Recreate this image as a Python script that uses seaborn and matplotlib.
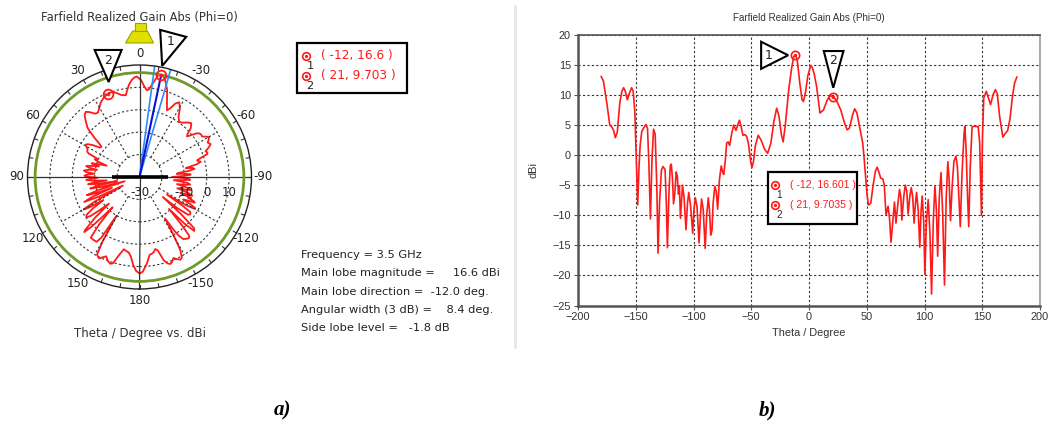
import numpy as np
import matplotlib
matplotlib.use("Agg")
import matplotlib.pyplot as plt
import seaborn as sns
from matplotlib.patches import Polygon, Rectangle
from matplotlib.lines import Line2D
from matplotlib import font_manager

# ---------------- data ----------------
theta_deg = [-180, -178, -175, -172.5, -170.5, -169, -167.7, -166, -163.8, -162, -160.5, -159,
             -157.3, -155.5, -153.6, -152.2, -150.8, -149.6, -148.3, -147.2, -146.2, -144.8,
             -143.2, -141.2, -139.8, -138.7, -137.3, -136, -134.6, -133.2, -131.8, -130.7,
             -129.4, -127.8, -126.4, -124.6, -123.6, -122.6, -121.2, -120.1, -119.2, -118.2,
             -117.3, -116.2, -115.0, -114.0, -113.0, -112.2, -111.3, -109.5, -108.2, -106.5,
             -105.2, -104.1, -102.5, -100.7, -99.6, -98.4, -97, -95.2, -94, -93, -91.6, -89.9,
             -88.6, -87.2, -86.2, -85.1, -84, -83, -81.6, -80.3, -79.1, -77.5, -76, -74.5,
             -73.8, -72.5, -71.3, -70, -68.7, -67, -65.2, -63.2, -61.8, -60.2, -58.8, -57.2,
             -55.5, -54, -52.5, -50.5, -49.4, -48, -46.5, -44, -41.5, -38.5, -35.8, -33,
             -30.5, -28, -26, -24, -22.4, -20.5, -17.5, -15, -13.2, -12, -10.3, -8, -6, -4.8,
             -3, -1, 1.5, 3, 4.5, 6.5, 8.5, 9.5, 12.5, 15.5, 18, 21, 24, 27.5, 30.5, 33, 35,
             37.5, 39.5, 41.5, 44, 46.5, 47.5, 49, 50.2, 51.5, 53.5, 55.5, 57.5, 59, 60.5, 62,
             64, 65.2, 66.7, 68.5, 69.7, 71, 72.8, 74, 75.3, 77, 78.4, 79.5, 80.4, 82, 83.3,
             84.7, 85.8, 87.5, 88.6, 89.8, 91, 92.2, 93.1, 94.5, 95.9, 97, 98, 99.3, 100.3,
             101.7, 103.2, 104.7, 106.1, 107.6, 109, 110.3, 111.4, 112.8, 114.3, 115.8, 117.3,
             118.8, 120.2, 121.3, 122.5, 124, 125.5, 127.2, 128.5, 129.8, 131, 132.5, 134.2,
             134.9, 136, 137.3, 138.3, 139.6, 141.2, 143.5, 146.5, 147.8, 149.3, 150.2, 151.3,
             153.5, 155.3, 157.2, 159.3, 161.4, 163, 165, 167.8, 170, 172, 174, 176, 178, 180]
gain_dbi = [13.1, 12.3, 8.6, 5.0, 4.6, 4.0, 2.9, 3.8, 8.7, 10.6, 11.2, 10.6,
            9.2, 10.3, 11.2, 10.6, 7.2, 0.0, -8.3, -2.0, 1.6, 3.9,
            4.5, 5.1, 4.4, -1.0, -10.6, -1.0, 4.3, 3.5, -5.0, -16.3,
            -8.0, -2.5, -1.9, -2.4, -7.5, -15.4, -6.0, -1.8, -1.5, -4.0,
            -8.1, -6.5, -2.8, -3.5, -6.5, -5.1, -10.5, -5.0, -7.0, -12.4,
            -8.0, -6.2, -8.5, -13.0, -9.0, -7.1, -8.5, -14.6, -10.0, -7.3, -9.0, -15.5,
            -10.0, -7.1, -9.0, -13.3, -12.5, -8.0, -5.2, -6.0, -9.0, -4.0, -1.8, -3.0,
            -3.2, -1.0, 2.0, 2.2, 1.6, 3.5, 5.0, 4.1, 5.0, 5.8, 4.8, 3.3,
            3.4, 3.1, 2.0, -1.0, -2.1, -1.0, 1.5, 3.3, 2.5, 1.0, 0.3, 2.0,
            5.5, 7.8, 6.5, 3.5, 2.2, 5.0, 11.0, 14.5, 16.4, 16.6, 16.0, 12.0, 9.2, 8.9,
            10.5, 13.2, 14.9, 14.5, 13.5, 11.5, 8.5, 7.0, 7.5, 9.0, 9.9, 9.7, 9.0, 7.5, 5.5, 4.2, 4.5,
            6.5, 7.7, 7.0, 4.5, 2.0, 0.0, -3.5, -6.5, -8.3, -8.0, -5.0, -2.7, -2.0, -2.8, -3.8,
            -4.0, -5.0, -10.0, -8.5, -10.5, -14.5, -10.5, -7.8, -11.3, -8.0, -5.7, -7.0, -10.8, -7.0, -5.0,
            -6.0, -9.8, -6.5, -5.4, -7.0, -11.3, -8.0, -6.2, -9.0, -15.3, -9.5, -6.8, -11.0, -19.8,
            -11.0, -7.4, -13.0, -23.1, -11.0, -5.1, -9.0, -16.8, -7.0, -2.9, -10.0, -21.6,
            -7.0, -1.1, -4.0, -10.9, -5.0, -1.0, -0.2, -2.0, -7.0, -11.9, -3.0, 3.5,
            4.8, 1.0, -7.0, -11.9, -2.0, 4.7, 4.8, 4.7, 2.0, -10.0, 3.0, 9.5,
            10.6, 9.5, 8.4, 10.0, 10.9, 10.2, 6.5, 3.0, 3.6, 4.1, 6.0, 9.5, 12.0, 13.0]

marker_ids = ["1", "2"]
marker_theta = [-12, 21]
marker_gain = [16.601, 9.7035]
polar_marker_text = ["( -12, 16.6 )", "( 21, 9.703 )"]
cart_marker_text = ["( -12, 16.601 )", "( 21, 9.7035 )"]

theta_tick_vals = [0, 30, 60, 90, 120, 150, 180, -150, -120, -90, -60, -30]
polar_r_rings = [-20, -10, 0, 10]
polar_r_labels = [-30, -10, 0, 10]
x_ticks = [-200, -150, -100, -50, 0, 50, 100, 150, 200]
y_ticks = [-25, -20, -15, -10, -5, 0, 5, 10, 15, 20]

main_lobe_mag = 16.6
main_lobe_dir = -12.0
angular_width = 8.4
info_lines = ["Frequency = 3.5 GHz",
              "Main lobe magnitude =     16.6 dBi",
              "Main lobe direction =  -12.0 deg.",
              "Angular width (3 dB) =    8.4 deg.",
              "Side lobe level =   -1.8 dB"]

title_text = "Farfield Realized Gain Abs (Phi=0)"

# ---------------- style ----------------
sns.set_theme(style="white")
plt.rcParams["font.family"] = ["DejaVu Sans"]
names = {f.name for f in font_manager.fontManager.ttflist}
narrow = "Liberation Sans Narrow" if "Liberation Sans Narrow" in names else "Liberation Sans"
narrow_size = 9 if narrow == "Liberation Sans Narrow" else 7.9

W, H = 1048, 428
fig = plt.figure(figsize=(W / 100, H / 100), dpi=100)
fig.patch.set_facecolor("white")


def fx(px):
    return px / W


def fy(py):
    return 1 - py / H


RED = "#FF1A1A"

# ---------------- polar panel ----------------
cx, cy, R = 139.5, 177, 112
axp = fig.add_axes([fx(cx - R), fy(cy + R), 2 * R / W, 2 * R / H], projection="polar")
axp.set_theta_zero_location("N")
axp.set_theta_direction(1)
axp.set_facecolor("white")

th_rad = np.deg2rad(theta_deg)
sns.lineplot(x=th_rad, y=gain_dbi, ax=axp, color=RED, lw=1.3, sort=False, estimator=None)
axp.set_xlabel("")
axp.set_ylabel("")
axp.set_xlim(-np.pi, np.pi)
axp.set_ylim(-30, 20)

axp.set_yticks(polar_r_rings)
axp.set_yticklabels([])
axp.yaxis.grid(True, linestyle=(0, (2, 2)), color="#333333", lw=0.8)
axp.set_xticks(np.deg2rad(theta_tick_vals))
axp.set_xticklabels([str(v) for v in theta_tick_vals], fontsize=8.5, color="#222222")
axp.xaxis.grid(False)
axp.tick_params(axis="x", pad=-5)
axp.spines["polar"].set_color("#222222")
axp.spines["polar"].set_linewidth(1.0)

# spokes
for t in theta_tick_vals:
    if t % 90 == 0:
        axp.plot([np.deg2rad(t)] * 2, [-30, 20], color="#333333", lw=0.9)
    else:
        axp.plot([np.deg2rad(t)] * 2, [-20, 10], color="#333333", lw=0.8, linestyle=(0, (2, 2)))
for t in range(-180, 180, 10):
    axp.plot([np.deg2rad(t)] * 2, [18.3, 20], color="#333333", lw=0.8)

# main lobe circle
axp.axhline(main_lobe_mag, color="#6E9A2A", lw=2.0)

# beam lines
for d in (-angular_width / 2, angular_width / 2):
    axp.plot([np.deg2rad(main_lobe_dir + d)] * 2, [-30, 20], color="#2C8CFF", lw=1.2)
axp.plot([np.deg2rad(main_lobe_dir)] * 2, [-30, main_lobe_mag], color="#1010D0", lw=1.5)

# side marker line
for t in (90, -90):
    axp.plot([np.deg2rad(t)] * 2, [-30, -17.5], color="black", lw=2.6, solid_capstyle="butt")

# radial labels
for v in polar_r_labels:
    axp.annotate(str(v), xy=(np.deg2rad(-90), v), xytext=(0, -11.5), textcoords="offset points",
                 ha="center", va="center", fontsize=8.5, color="#222222")

# markers
axp.plot(np.deg2rad(marker_theta), marker_gain, "o", mfc="none", mec=RED, ms=7, mew=1.3)
axp.plot(np.deg2rad(marker_theta), marker_gain, "o", mfc=RED, mec=RED, ms=1.5)
axp.set_xlim(-np.pi, np.pi)

# ---------------- cartesian panel ----------------
axc = fig.add_axes([fx(578), fy(305.5), 462 / W, 270.7 / H])
sns.lineplot(x=theta_deg, y=gain_dbi, ax=axc, color=RED, lw=1.2, sort=False, estimator=None)
axc.plot(marker_theta, marker_gain, "o", mfc="none", mec=RED, ms=6, mew=1.2)
axc.plot(marker_theta, marker_gain, "o", mfc=RED, mec=RED, ms=1.4)
axc.set_xlim(-200, 200)
axc.set_ylim(-25, 20)
axc.set_xticks(x_ticks)
axc.set_yticks(y_ticks)
axc.grid(True, linestyle=(0, (2, 2)), color="#333333", lw=0.8)
for lab in axc.get_xticklabels() + axc.get_yticklabels():
    lab.set_family(narrow)
    lab.set_fontsize(narrow_size)
    lab.set_color("#333333")
axc.tick_params(direction="out", length=3, width=0.8, color="#555555", pad=2,
                bottom=True, left=True)
axc.set_xlabel("Theta / Degree", family=narrow, fontsize=narrow_size, color="#333333", labelpad=4)
axc.set_ylabel("dBi", family=narrow, fontsize=narrow_size, color="#333333", labelpad=10)
axc.set_title(title_text, family=narrow, fontsize=narrow_size - 0.8, color="#333333", pad=10)
axc.spines["left"].set_color("#555555")
axc.spines["bottom"].set_color("#555555")
axc.spines["left"].set_linewidth(1.8)
axc.spines["bottom"].set_linewidth(1.8)
axc.spines["top"].set_color("#555555")
axc.spines["right"].set_color("#999999")
axc.spines["top"].set_linewidth(1.2)
axc.spines["right"].set_linewidth(1.2)

# ---------------- annotations ----------------
inv = fig.transFigure.inverted()


def tri(ax, theta, r, rel, text_rel, label, polar):
    x = np.deg2rad(theta) if polar else theta
    px, py = ax.transData.transform((x, r))
    verts = [inv.transform((px + dx, py + dy)) for dx, dy in rel]
    fig.add_artist(Polygon(verts, closed=True, facecolor="white", edgecolor="black", lw=1.5,
                           transform=fig.transFigure, zorder=5))
    tx, ty = inv.transform((px + text_rel[0], py + text_rel[1]))
    fig.text(tx, ty, label, ha="center", va="center", fontsize=9, color="#222222", zorder=6)


tri(axp, marker_theta[0], marker_gain[0], [(-1, 45), (25, 38), (1, 9)], (9, 33), marker_ids[0], True)
tri(axp, marker_theta[1], marker_gain[1], [(-13, 44), (14, 44), (1, 12)], (0, 33), marker_ids[1], True)
tri(axc, marker_theta[0], marker_gain[0], [(-34, 13.5), (-34, -13.6), (-7, 0)], (-27, 0), marker_ids[0], False)
tri(axc, marker_theta[1], marker_gain[1], [(-9.5, 45.7), (10.2, 45.7), (0, 9)], (0, 36), marker_ids[1], False)

# horn icon (trapezoid bottom at 22 px above the ring, narrow rectangle on top)
top = cy - R
fig.add_artist(Polygon([(fx(cx - 14), fy(top - 22)), (fx(cx + 14), fy(top - 22)),
                        (fx(cx + 8), fy(top - 34)), (fx(cx - 7), fy(top - 34))],
                       closed=True, facecolor="#E0E000", edgecolor="#A0A000", lw=0.8, zorder=3))
fig.add_artist(Rectangle((fx(cx - 5), fy(top - 34)), 11 / W, 8 / H,
                         facecolor="#E0E000", edgecolor="#A0A000", lw=0.8, zorder=3))

# titles left
fig.text(fx(cx), fy(18), title_text, ha="center", va="center", fontsize=8.3, color="#333333")
fig.text(fx(cx), fy(333), "Theta / Degree vs. dBi", ha="center", va="center", fontsize=8.5,
         color="#333333")

# info text
for i, line in enumerate(info_lines):
    fig.text(fx(301), fy(255 + 18.3 * i), line, ha="left", va="center", fontsize=8.2,
             color="#222222")


# legend boxes
def legend_box(x0, y0, x1, y1, mx, rows, texts, fsize, family):
    fig.add_artist(Rectangle((fx(x0), fy(y1)), (x1 - x0) / W, (y1 - y0) / H, facecolor="white",
                             edgecolor="black", lw=1.6, zorder=4))
    for yy, lab, txt in zip(rows, marker_ids, texts):
        fig.add_artist(Line2D([fx(mx)], [fy(yy)], marker="o", mfc="none", mec=RED, ms=5.5, mew=1.2,
                              zorder=5))
        fig.add_artist(Line2D([fx(mx)], [fy(yy)], marker="o", mfc=RED, mec=RED, ms=1.3, zorder=5))
        fig.text(fx(mx + 4), fy(yy + 10), lab, ha="center", va="center", fontsize=fsize,
                 color="#222222", family=family, zorder=6)
        fig.text(fx(mx + 15), fy(yy), txt, ha="left", va="center", fontsize=fsize + 0.5,
                 color=RED, family=family, zorder=6)


legend_box(297, 43, 407, 93, 306, [56, 76], polar_marker_text, 8.2, "DejaVu Sans")
legend_box(768, 172, 857, 224, 775, [185, 205], cart_marker_text, narrow_size - 0.8, narrow)

# separator
fig.add_artist(Line2D([fx(515), fx(515)], [fy(6), fy(347)], color="#E6E6E6", lw=2))

# panel labels
fig.text(fx(283), fy(410), "a)", ha="center", va="center", fontsize=15, family="Liberation Serif",
         style="italic", weight="bold", color="black")
fig.text(fx(767), fy(410), "b)", ha="center", va="center", fontsize=15, family="Liberation Serif",
         style="italic", weight="bold", color="black")

fig.savefig("out.png", dpi=100, facecolor="white")
